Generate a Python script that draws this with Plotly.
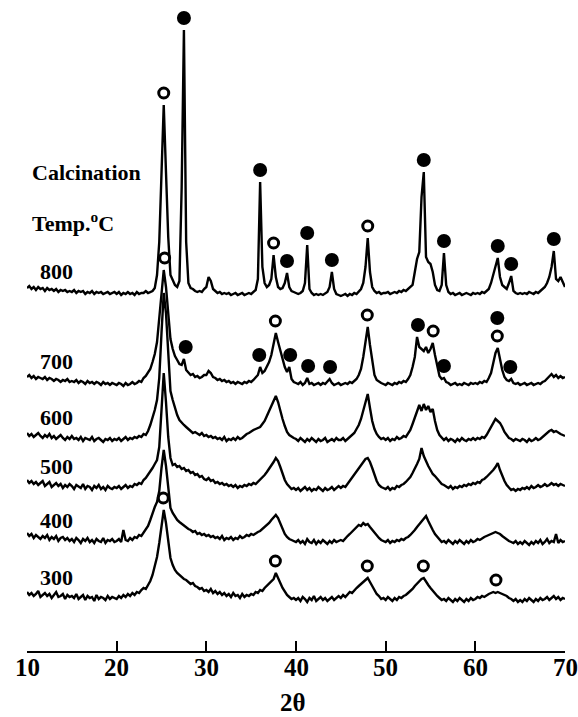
import numpy as np
import plotly.graph_objects as go

# ---- scan grid (2-theta, degrees): start 10, step 0.25, 241 points ----
two_theta = [round(10 + 0.25 * i, 2) for i in range(241)]

# ---- intensities (a.u.), each row = 5 degrees (20 points) ----
I_800 = [9, 11, 8, 10, 7, 10, 8, 9, 6, 9, 7, 8, 6, 8, 5, 7, 6, 7, 5, 6,
         5, 7, 4, 6, 5, 6, 3, 5, 4, 6, 3, 5, 4, 5, 3, 4, 5, 3, 4, 5,
         3, 5, 2, 4, 3, 5, 3, 4, 2, 5, 3, 4, 4, 6, 4, 5, 6, 9, 22, 55,
         120, 192, 125, 60, 22, 16, 12, 10, 16, 110, 267, 55, 14, 9, 8, 6, 5, 6, 5, 8,
         10, 20, 16, 8, 6, 4, 5, 3, 4, 3, 4, 2, 3, 4, 2, 3, 4, 2, 3, 4,
         3, 5, 7, 18, 115, 30, 14, 10, 12, 18, 42, 20, 10, 8, 9, 14, 24, 10, 6, 5,
         4, 3, 4, 6, 14, 52, 8, 4, 2, 3, 2, 3, 2, 4, 5, 10, 25, 8, 3, 2,
         1, 2, 3, 1, 3, 2, 4, 3, 5, 8, 14, 30, 59, 25, 10, 6, 4, 5, 3, 4,
         4, 5, 3, 4, 5, 4, 6, 5, 7, 6, 8, 10, 12, 25, 38, 45, 100, 125, 40, 35,
         33, 25, 12, 7, 6, 12, 44, 12, 5, 3, 4, 2, 3, 4, 2, 3, 4, 3, 2, 4,
         3, 4, 3, 5, 4, 6, 8, 14, 22, 30, 39, 20, 12, 10, 8, 14, 21, 6, 4, 3,
         4, 3, 4, 3, 5, 4, 3, 5, 4, 6, 8, 10, 14, 20, 30, 46, 18, 16, 20, 14,
         10]

I_700 = [10, 12, 9, 11, 8, 10, 9, 8, 10, 7, 9, 8, 6, 8, 7, 5, 7, 6, 8, 5,
         6, 5, 7, 4, 6, 5, 3, 6, 4, 5, 3, 5, 4, 2, 5, 3, 4, 2, 4, 3,
         2, 4, 3, 1, 4, 2, 3, 5, 3, 4, 6, 5, 9, 11, 14, 18, 25, 33, 45, 68,
         98, 117, 100, 70, 48, 38, 31, 27, 23, 22, 28, 17, 15, 12, 13, 10, 11, 9, 10, 12,
         12, 16, 14, 10, 9, 7, 8, 6, 7, 5, 6, 4, 5, 3, 5, 4, 3, 5, 4, 6,
         5, 7, 9, 12, 20, 14, 16, 20, 25, 32, 45, 54, 45, 36, 28, 20, 15, 20, 8, 5,
         4, 3, 5, 2, 4, 9, 3, 4, 2, 3, 4, 2, 4, 3, 5, 8, 4, 2, 3, 4,
         2, 3, 4, 3, 5, 4, 6, 8, 12, 18, 30, 48, 60, 42, 24, 12, 7, 5, 4, 3,
         2, 4, 3, 2, 4, 3, 5, 4, 6, 5, 8, 12, 20, 30, 50, 40, 38, 36, 40, 34,
         38, 44, 32, 20, 11, 8, 9, 5, 4, 2, 3, 4, 2, 3, 2, 4, 3, 2, 4, 3,
         4, 3, 5, 4, 6, 5, 9, 14, 24, 34, 39, 28, 17, 10, 7, 6, 8, 4, 3, 4,
         2, 3, 4, 2, 3, 4, 2, 3, 4, 3, 5, 6, 8, 11, 13, 10, 12, 9, 11, 9,
         10]

I_600 = [10, 7, 9, 6, 8, 10, 7, 5, 8, 6, 9, 5, 7, 4, 6, 8, 5, 3, 6, 4,
         7, 4, 5, 3, 6, 2, 5, 4, 3, 6, 2, 4, 5, 3, 1, 4, 3, 5, 2, 4,
         3, 5, 2, 4, 6, 3, 5, 4, 6, 5, 7, 6, 9, 8, 12, 18, 25, 33, 43, 65,
         110, 150, 130, 85, 52, 43, 35, 28, 23, 20, 18, 16, 14, 13, 10, 11, 9, 8, 10, 7,
         8, 6, 7, 5, 6, 4, 5, 3, 6, 2, 4, 3, 5, 3, 6, 4, 5, 7, 9, 10,
         12, 13, 14, 15, 16, 19, 22, 27, 32, 37, 42, 47, 41, 31, 24, 17, 11, 8, 6, 5,
         4, 2, 5, 3, 1, 4, 2, 5, 3, 1, 4, 2, 3, 5, 1, 3, 4, 2, 5, 3,
         3, 5, 2, 4, 6, 8, 10, 14, 18, 24, 33, 42, 49, 35, 22, 14, 9, 6, 4, 5,
         3, 5, 2, 4, 3, 6, 4, 5, 7, 6, 9, 13, 19, 26, 33, 38, 32, 39, 33, 37,
         31, 34, 22, 13, 8, 5, 3, 5, 2, 4, 3, 1, 4, 2, 5, 3, 2, 4, 3, 5,
         3, 5, 4, 6, 5, 8, 12, 17, 21, 24, 22, 20, 16, 11, 8, 5, 4, 2, 4, 3,
         2, 4, 3, 1, 4, 2, 3, 5, 3, 4, 6, 8, 10, 12, 13, 11, 12, 10, 9, 8,
         7]

I_500 = [12, 9, 11, 8, 10, 7, 9, 11, 6, 8, 10, 5, 7, 9, 6, 8, 4, 7, 5, 8,
         6, 3, 7, 5, 4, 8, 3, 6, 5, 2, 6, 4, 7, 3, 5, 2, 6, 4, 3, 5,
         4, 6, 3, 5, 7, 4, 6, 5, 8, 7, 9, 8, 12, 14, 17, 20, 24, 28, 32, 45,
         80, 119, 90, 55, 34, 27, 28, 25, 26, 23, 24, 21, 22, 19, 20, 17, 18, 15, 16, 13,
         12, 14, 11, 12, 9, 10, 8, 9, 7, 8, 6, 7, 5, 7, 4, 6, 5, 7, 6, 8,
         7, 9, 8, 10, 12, 14, 17, 20, 23, 26, 30, 34, 31, 25, 18, 12, 8, 5, 3, 4,
         2, 4, 1, 3, 5, 2, 4, 1, 3, 2, 5, 3, 1, 4, 2, 3, 5, 2, 4, 6,
         4, 6, 5, 8, 12, 15, 18, 21, 24, 27, 30, 33, 34, 30, 24, 17, 11, 7, 5, 4,
         3, 5, 2, 4, 3, 6, 5, 7, 8, 10, 12, 15, 19, 23, 28, 33, 44, 36, 30, 26,
         22, 18, 16, 13, 10, 8, 7, 5, 4, 6, 3, 5, 4, 6, 5, 7, 6, 8, 7, 9,
         8, 10, 9, 12, 13, 15, 17, 19, 22, 25, 29, 22, 16, 11, 7, 4, 2, 3, 1, 3,
         2, 4, 3, 5, 3, 6, 4, 5, 7, 5, 6, 8, 6, 7, 9, 7, 8, 6, 8, 7,
         6]

I_400 = [13, 10, 12, 8, 11, 9, 7, 10, 8, 11, 6, 9, 7, 10, 5, 8, 9, 6, 8, 5,
         7, 4, 8, 6, 3, 7, 5, 8, 4, 6, 3, 7, 5, 4, 8, 3, 6, 5, 7, 4,
         5, 7, 4, 16, 6, 5, 8, 6, 9, 8, 11, 10, 13, 16, 20, 26, 33, 39, 44, 55,
         78, 96, 80, 55, 38, 33, 29, 26, 24, 22, 20, 19, 17, 16, 14, 15, 12, 13, 11, 12,
         10, 11, 9, 10, 8, 9, 7, 10, 6, 8, 7, 9, 6, 8, 7, 10, 8, 9, 11, 10,
         12, 11, 13, 14, 15, 17, 19, 21, 23, 26, 28, 31, 28, 22, 17, 12, 9, 7, 6, 5,
         4, 6, 3, 5, 2, 7, 4, 3, 6, 2, 5, 3, 6, 4, 2, 5, 3, 6, 4, 5,
         6, 5, 8, 10, 12, 14, 16, 18, 21, 20, 23, 21, 22, 19, 16, 13, 10, 8, 6, 5,
         4, 6, 3, 5, 4, 6, 5, 7, 6, 8, 9, 11, 13, 16, 19, 22, 25, 27, 30, 25,
         20, 16, 12, 9, 6, 4, 5, 3, 6, 4, 2, 5, 3, 6, 4, 2, 5, 3, 6, 4,
         5, 7, 6, 8, 9, 10, 11, 12, 13, 14, 13, 12, 10, 8, 7, 5, 4, 3, 5, 2,
         4, 2, 5, 3, 1, 4, 2, 5, 3, 6, 2, 4, 7, 3, 5, 4, 12, 3, 6, 4,
         5]

I_300 = [11, 8, 10, 7, 9, 12, 6, 8, 10, 7, 9, 5, 8, 11, 6, 7, 9, 4, 8, 6,
         7, 5, 9, 4, 6, 8, 3, 7, 5, 6, 2, 8, 4, 6, 5, 3, 7, 4, 6, 5,
         4, 7, 5, 8, 6, 9, 7, 10, 8, 11, 10, 13, 15, 14, 18, 22, 28, 36, 46, 60,
         78, 93, 80, 60, 45, 38, 33, 30, 28, 26, 24, 23, 21, 19, 20, 17, 16, 14, 15, 12,
         13, 11, 14, 10, 12, 9, 11, 8, 10, 7, 9, 6, 10, 7, 8, 5, 9, 6, 8, 7,
         9, 8, 11, 10, 13, 12, 15, 17, 19, 21, 24, 30, 24, 20, 15, 11, 8, 6, 4, 5,
         3, 5, 2, 6, 4, 1, 5, 3, 7, 2, 4, 6, 3, 5, 2, 4, 6, 3, 5, 7,
         5, 8, 6, 9, 11, 10, 13, 15, 17, 19, 21, 24, 25, 21, 17, 13, 9, 7, 4, 5,
         3, 6, 4, 2, 5, 3, 6, 5, 7, 8, 10, 12, 14, 17, 19, 22, 24, 25, 21, 18,
         15, 12, 9, 7, 5, 3, 4, 2, 5, 3, 1, 4, 2, 5, 3, 1, 4, 2, 5, 3,
         4, 6, 5, 7, 6, 8, 9, 10, 11, 10, 11, 10, 9, 8, 7, 5, 4, 2, 4, 1,
         3, 1, 4, 2, 5, 3, 1, 4, 2, 5, 3, 4, 6, 3, 5, 7, 4, 6, 3, 5,
         4]

temps = ["300", "400", "500", "600", "700", "800"]
series = [I_300, I_400, I_500, I_600, I_700, I_800]
offsets = [48, 105, 159, 208, 264, 354]   # vertical stacking (a.u.)
x_ticks = [10, 20, 30, 40, 50, 60, 70]

# phase peak markers (2-theta) per pattern: anatase (open), rutile (filled)
anatase = {"800": [25.25, 37.5, 48.0],
           "700": [25.35, 37.7, 47.95, 55.3, 62.45],
           "300": [25.2, 37.7, 47.95, 54.2, 62.3]}
rutile = {"800": [27.5, 36.0, 39.0, 41.25, 44.0, 54.25, 56.5, 62.5, 64.0, 68.75],
          "700": [27.7, 35.9, 39.35, 41.35, 43.8, 53.6, 56.5, 63.9]}
rutile_stacked = {"700": [62.45]}   # drawn above the anatase marker

GAP = 12
STACK = 18
FONT = "Liberation Serif"
PLOT_H = 651  # plot-area height in px (y axis is 1 unit per px)

tt = np.array(two_theta)
fig = go.Figure()

curves = {}
for t, s, off in zip(temps, series, offsets):
    y = np.array(s, dtype=float) + off
    curves[t] = y
    fig.add_trace(go.Scatter(x=two_theta, y=y, mode="lines",
                             line=dict(color="black", width=2.4),
                             hoverinfo="skip"))


def peak_top(t, a):
    m = np.abs(tt - a) <= 0.3
    return curves[t][m].max()


ax, ay, rx, ry = [], [], [], []
for t, lst in anatase.items():
    for a in lst:
        ax.append(a)
        ay.append(peak_top(t, a) + GAP)
for t, lst in rutile.items():
    for a in lst:
        rx.append(a)
        ry.append(peak_top(t, a) + GAP)
for t, lst in rutile_stacked.items():
    for a in lst:
        rx.append(a)
        ry.append(peak_top(t, a) + GAP + STACK)

fig.add_trace(go.Scatter(x=ax, y=ay, mode="markers", cliponaxis=False,
                         marker=dict(symbol="circle", size=10, color="white",
                                     line=dict(color="black", width=3)),
                         hoverinfo="skip"))
fig.add_trace(go.Scatter(x=rx, y=ry, mode="markers", cliponaxis=False,
                         marker=dict(symbol="circle", size=14, color="black",
                                     line=dict(width=0)),
                         hoverinfo="skip"))

annotations = []
for t, off in zip(temps, offsets):
    annotations.append(dict(x=13.27, y=off + 26, xref="x", yref="y", text="<b>" + t + "</b>",
                             showarrow=False, xanchor="center", yanchor="middle",
                             font=dict(family=FONT, size=22, color="black")))
annotations.append(dict(x=10.29, y=479, xref="x", yref="y", text="<b>Calcination</b>",
                        showarrow=False, xanchor="left", yanchor="middle",
                        font=dict(family=FONT, size=22, color="black")))
annotations.append(dict(x=10.29, y=429, xref="x", yref="y",
                        text="<b>Temp.<sup>o</sup>C</b>",
                        showarrow=False, xanchor="left", yanchor="middle",
                        font=dict(family=FONT, size=22, color="black")))
# tick labels
for v in x_ticks:
    annotations.append(dict(x=v, y=-16 / PLOT_H, xref="x", yref="paper",
                            text="<b>%d</b>" % v, showarrow=False,
                            xanchor="center", yanchor="middle",
                            font=dict(family=FONT, size=25, color="black")))
annotations.append(dict(x=39.7, y=-51 / PLOT_H, xref="x", yref="paper", text="<b>2θ</b>",
                        showarrow=False, xanchor="center", yanchor="middle",
                        font=dict(family=FONT, size=25, color="black")))

fig.update_layout(
    width=578, height=717,
    margin=dict(l=27, r=13, t=0, b=66),
    plot_bgcolor="white", paper_bgcolor="white",
    showlegend=False,
    annotations=annotations,
    xaxis=dict(range=[10, 70], tickvals=x_ticks, showticklabels=False,
               ticks="inside", ticklen=10, tickwidth=2, tickcolor="black",
               showline=True, linewidth=2, linecolor="black",
               showgrid=False, zeroline=False),
    yaxis=dict(visible=False, range=[0, PLOT_H], fixedrange=True),
)

fig.write_html("out.html")
